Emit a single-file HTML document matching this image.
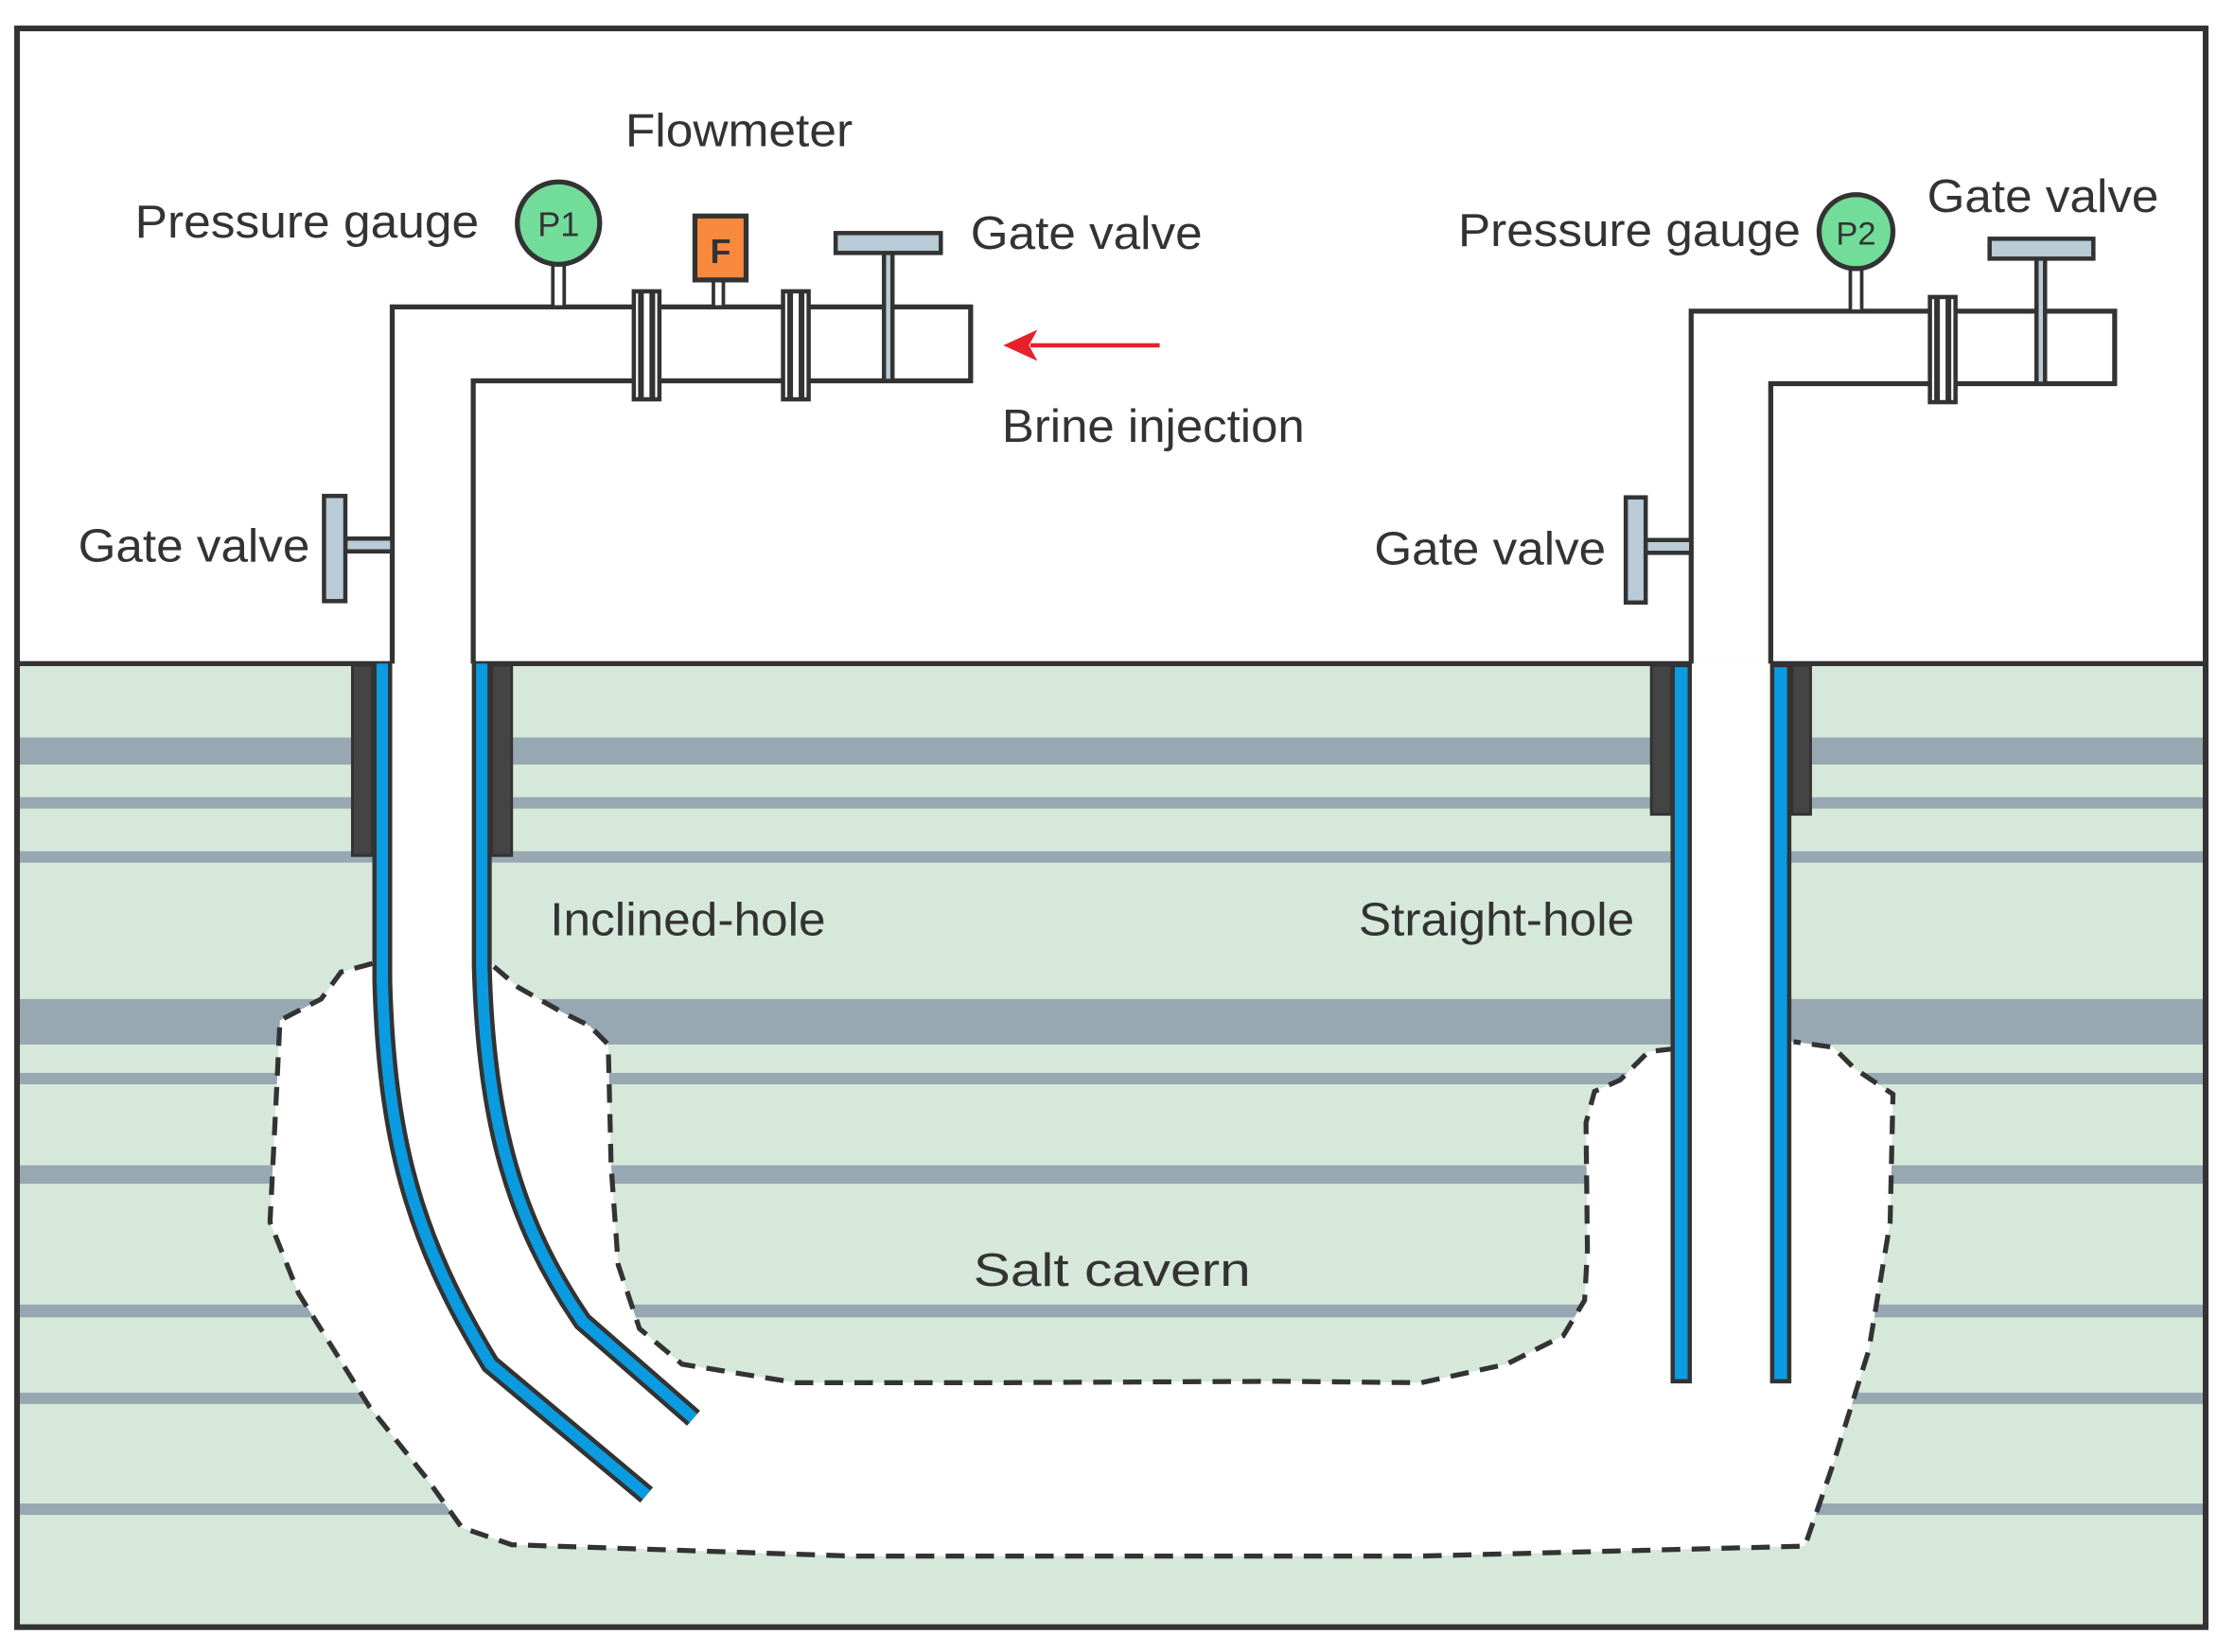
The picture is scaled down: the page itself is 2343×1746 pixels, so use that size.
<!DOCTYPE html>
<html><head><meta charset="utf-8"><style>html,body{margin:0;padding:0;background:#fff}svg{display:block}</style></head>
<body>
<svg width="2343" height="1746" viewBox="0 0 1560 1162.5" preserveAspectRatio="none" xmlns="http://www.w3.org/2000/svg">
<rect x="0" y="0" width="1560" height="1163" fill="#fff"/>
<rect x="12" y="467" width="1540" height="678" fill="#d5e8da"/>
<g fill="#97a8b3">
<rect x="12" y="519" width="1540" height="19"/>
<rect x="12" y="561" width="1540" height="8"/>
<rect x="12" y="599" width="1540" height="8"/>
<rect x="12" y="703" width="1540" height="32"/>
<rect x="12" y="755" width="1540" height="8"/>
<rect x="12" y="820" width="1540" height="13"/>
<rect x="12" y="918" width="1540" height="9"/>
<rect x="12" y="980" width="1540" height="8"/>
<rect x="12" y="1058" width="1540" height="8"/>
</g>
<!-- cavern fill -->
<path d="M262 678 L240 684 L226 703 L197 718 L195 760 L190 860 L210 910 L260 990 L300 1040 L325 1075 L360 1087 L600 1095 L1000 1095 L1270 1088 L1290 1030 L1315 950 L1330 860 L1332 770 L1305 752 L1290 737 L1262 733 L1250 733 L1250 972 L1190 972 L1190 738 L1160 740 L1140 760 L1122 768 L1116 790 L1117 880 L1115 915 L1100 940 L1060 960 L1000 973 L900 972 L700 973 L560 973 L480 960 L450 935 L435 890 L430 820 L428 735 L415 722 L395 712 L365 695 L345 678 Z" fill="#fff"/>
<!-- cavern outline (open) -->
<g fill="none" stroke="#333" stroke-width="3.5" stroke-dasharray="13 8">
<path d="M262 678 L240 684 L226 703 L197 718 L195 760 L190 860 L210 910 L260 990 L300 1040 L325 1075 L360 1087 L600 1095 L1000 1095 L1270 1088 L1290 1030 L1315 950 L1330 860 L1332 770 L1305 752 L1290 737 L1262 733"/>
<path d="M1178 738 L1160 740 L1140 760 L1122 768 L1116 790 L1117 880 L1115 915 L1100 940 L1060 960 L1000 973 L900 972 L700 973 L560 973 L480 960 L450 935 L435 890 L430 820 L428 735 L415 722 L395 712 L365 695 L345 678"/>
</g>
<rect x="1190" y="700" width="60" height="40" fill="#fff"/>
<path d="M269 467 L269 690 C272 800 290 870 345 960 L455 1052 L488 998 L410 930 C362 860 342 790 339 680 L339 467 Z" fill="#fff"/>
<rect x="270" y="440" width="68" height="250" fill="#fff"/>
<rect x="1190" y="467" width="60" height="505" fill="#fff"/>
<rect x="12" y="20" width="1540" height="1125" fill="none" stroke="#333" stroke-width="4"/>
<line x1="12" y1="467" x2="276" y2="467" stroke="#333" stroke-width="3.5"/>
<line x1="333" y1="467" x2="1190" y2="467" stroke="#333" stroke-width="3.5"/>
<line x1="1246" y1="467" x2="1552" y2="467" stroke="#333" stroke-width="3.5"/>
<rect x="248" y="468" width="14" height="134" fill="#444" stroke="#333" stroke-width="2"/>
<rect x="346" y="468" width="14" height="134" fill="#444" stroke="#333" stroke-width="2"/>
<g fill="none" stroke-linecap="butt">
<path d="M269 467 L269 690 C272 800 290 870 345 960 L455 1052" stroke="#333" stroke-width="14"/>
<path d="M269 467 L269 690 C272 800 290 870 345 960 L455 1052" stroke="#0a9be0" stroke-width="8"/>
<path d="M339 467 L339 680 C342 790 362 860 410 930 L488 998" stroke="#333" stroke-width="14"/>
<path d="M339 467 L339 680 C342 790 362 860 410 930 L488 998" stroke="#0a9be0" stroke-width="8"/>
</g>
<rect x="1162" y="468" width="14" height="105" fill="#444" stroke="#333" stroke-width="2"/>
<rect x="1261" y="468" width="13" height="105" fill="#444" stroke="#333" stroke-width="2"/>
<rect x="1177" y="468" width="12" height="504" fill="#0a9be0" stroke="#333" stroke-width="3"/>
<rect x="1247" y="468" width="12" height="504" fill="#0a9be0" stroke="#333" stroke-width="3"/>
<g stroke="#333" stroke-width="3.5" fill="none">
<polyline points="276,467 276,216 683,216 683,268 333,268 333,467"/>
<polyline points="1190,467 1190,219 1488,219 1488,270 1246,270 1246,467"/>
</g>
<g fill="#fff" stroke="#333" stroke-width="3">
<rect x="446" y="205" width="18" height="76"/>
<rect x="551" y="205" width="18" height="76"/>
<rect x="1358" y="209" width="18" height="74"/>
</g>
<g stroke="#333" stroke-width="4">
<line x1="451" y1="205" x2="451" y2="281"/><line x1="459" y1="205" x2="459" y2="281"/>
<line x1="556" y1="205" x2="556" y2="281"/><line x1="564" y1="205" x2="564" y2="281"/>
<line x1="1363" y1="209" x2="1363" y2="283"/><line x1="1371" y1="209" x2="1371" y2="283"/>
</g>
<rect x="389" y="186" width="8" height="30" fill="#fff" stroke="#333" stroke-width="2.5"/>
<circle cx="393" cy="157" r="29" fill="#72dc9a" stroke="#333" stroke-width="3.5"/>
<text x="393" y="166" font-family="Liberation Sans, sans-serif" font-size="24" fill="#333" text-anchor="middle">P1</text>
<rect x="1302" y="189" width="8" height="30" fill="#fff" stroke="#333" stroke-width="2.5"/>
<circle cx="1306" cy="163" r="26" fill="#72dc9a" stroke="#333" stroke-width="3.5"/>
<text x="1306" y="172" font-family="Liberation Sans, sans-serif" font-size="23" fill="#333" text-anchor="middle">P2</text>
<rect x="502" y="196" width="7" height="20" fill="#fff" stroke="#333" stroke-width="2.5"/>
<rect x="489" y="152" width="36" height="45" fill="#f98a3d" stroke="#333" stroke-width="3.5"/>
<text x="507" y="185" font-family="Liberation Sans, sans-serif" font-size="24" font-weight="bold" fill="#333" text-anchor="middle">F</text>
<g fill="#b8cbd6" stroke="#333" stroke-width="3">
<rect x="622" y="177" width="6" height="91"/>
<rect x="588" y="164" width="74" height="14"/>
<rect x="1433" y="181" width="6" height="89"/>
<rect x="1400" y="168" width="73" height="14"/>
<rect x="243" y="379" width="33" height="9"/>
<rect x="228" y="349" width="15" height="74"/>
<rect x="1158" y="380" width="32" height="9"/>
<rect x="1144" y="350" width="14" height="74"/>
</g>
<line x1="816" y1="243" x2="725" y2="243" stroke="#e8202a" stroke-width="3"/>
<polygon points="706,243 730,232 724,243 730,254" fill="#e8202a"/>
<g font-family="Liberation Sans, Arial, sans-serif" font-size="33" fill="#333">
<text x="440" y="103" textLength="160" lengthAdjust="spacingAndGlyphs">Flowmeter</text>
<text x="95" y="167" textLength="242" lengthAdjust="spacingAndGlyphs">Pressure gauge</text>
<text x="683" y="175" textLength="163" lengthAdjust="spacingAndGlyphs">Gate valve</text>
<text x="705" y="311" textLength="213" lengthAdjust="spacingAndGlyphs">Brine injection</text>
<text x="55" y="395" textLength="163" lengthAdjust="spacingAndGlyphs">Gate valve</text>
<text x="1026" y="173" textLength="241" lengthAdjust="spacingAndGlyphs">Pressure gauge</text>
<text x="1356" y="149" textLength="163" lengthAdjust="spacingAndGlyphs">Gate valve</text>
<text x="967" y="397" textLength="163" lengthAdjust="spacingAndGlyphs">Gate valve</text>
<text x="387" y="658" textLength="194" lengthAdjust="spacingAndGlyphs">Inclined-hole</text>
<text x="956" y="658" textLength="194" lengthAdjust="spacingAndGlyphs">Straight-hole</text>
<text x="685" y="905" textLength="195" lengthAdjust="spacingAndGlyphs">Salt cavern</text>
</g>
</svg>
</body></html>
